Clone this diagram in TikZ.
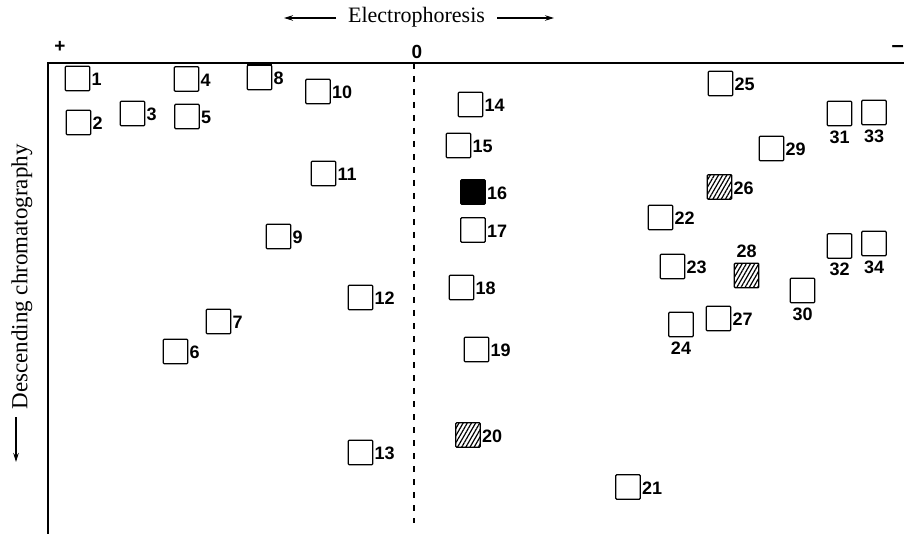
\documentclass[tikz,border=0pt]{standalone}
\usepackage{fontspec}
\setmainfont{Liberation Serif}
\setsansfont{Liberation Sans}
\usetikzlibrary{patterns.meta,arrows.meta}
\tikzset{
  spot/.style={draw, line width=1.1pt, minimum size=24.5pt, inner sep=0pt,
    rounded corners=1pt, label distance=2pt},
  hatchspot/.style={spot, line width=1.4pt,
    pattern={Lines[angle=60,distance=3.6pt,line width=1.2pt]}},
  solidspot/.style={spot, fill=black},
  lab/.style={font=\sffamily\bfseries\fontsize{18}{18}\selectfont, inner sep=1pt},
  axis/.style={line width=1.8pt},
  zeroline/.style={line width=1.3pt, dash pattern=on 6pt off 7pt},
  dirarrow/.style={line width=1.2pt, -{Stealth[length=9pt,width=5.5pt]}},
  title/.style={font=\fontsize{22}{22}\selectfont, inner sep=0pt},
  sign/.style={font=\sffamily\bfseries\fontsize{19}{19}\selectfont, inner sep=0pt},
}
\newcommand{\spotR}[5][spot]{\node[#1, label={[lab,yshift=-1pt]right:#5}] (s#2) at (#3,#4) {};}
\newcommand{\spotB}[5][spot]{\node[#1, label={[lab,yshift=-3pt]below:#5}] (s#2) at (#3,#4) {};}
\newcommand{\spotA}[5][spot]{\node[#1, label={[lab,yshift=4pt]above:#5}] (s#2) at (#3,#4) {};}
\begin{document}
\begin{tikzpicture}[x=1pt,y=-1pt]
\useasboundingbox (0,0) rectangle (904,534);
% axes
\coordinate (ax0) at (48,534);
\coordinate (ax1) at (48,63);
\coordinate (ax2) at (904,63);
\draw[axis] (ax0) -- (ax1) -- (ax2);
\coordinate (z0) at (414,63);
\coordinate (z1) at (414,523);
\draw[zeroline] (z0) -- (z1);
\node[sign] (plus) at (60,47) {+};
\node[sign] (zero) at (417,52) {0};
\node[sign, font=\sffamily\bfseries\fontsize{22}{22}\selectfont, anchor=east] (minus) at (904,49) {–};
% titles
\node[title] (ephor) at (416.5,17) {Electrophoresis};
\coordinate (la1) at (336,18);
\coordinate (la2) at (284,18);
\coordinate (ra1) at (497,18);
\coordinate (ra2) at (554,18);
\draw[dirarrow] (la1) -- (la2);
\draw[dirarrow] (ra1) -- (ra2);
\node[title, font=\fontsize{23}{23}\selectfont, rotate=90] (desc) at (22,277) {Descending chromatography};
\coordinate (da1) at (16,417);
\coordinate (da2) at (16,462);
\draw[dirarrow] (da1) -- (da2);
% spots
\spotR{1}{77.5}{78.5}{1}
\spotR{2}{78.5}{122.5}{2}
\spotR{3}{132.5}{113.5}{3}
\spotR{4}{186.5}{79}{4}
\spotR{5}{187}{116.5}{5}
\spotR{6}{175.5}{351.5}{6}
\spotR{7}{218.5}{321.5}{7}
\spotR{8}{259.5}{77.5}{8}
\draw[line width=2.6pt] (s8.north west) -- (s8.north east);
\spotR{9}{278.5}{236.5}{9}
\spotR{10}{318}{91.5}{10}
\spotR{11}{323.5}{173.5}{11}
\spotR{12}{360.5}{297.5}{12}
\spotR{13}{360.5}{452.5}{13}
\spotR{14}{470.5}{104.5}{14}
\spotR{15}{458.5}{145.5}{15}
\spotR[solidspot]{16}{473}{192}{16}
\spotR{17}{473}{230}{17}
\spotR{18}{461.5}{287.5}{18}
\spotR{19}{476.5}{349.5}{19}
\spotR[hatchspot]{20}{468}{435}{20}
\spotR{21}{628}{487}{21}
\spotR{22}{660.5}{217.5}{22}
\spotR{23}{672.5}{266.5}{23}
\spotB{24}{681}{324.5}{24}
\spotR{25}{720.5}{83.5}{25}
\spotR[hatchspot]{26}{719.5}{187}{26}
\spotR{27}{718.5}{318.5}{27}
\spotA[hatchspot]{28}{746.5}{275.5}{28}
\spotR{29}{771.5}{148.5}{29}
\spotB{30}{802.5}{290.5}{30}
\spotB{31}{839.5}{113.5}{31}
\spotB{32}{839.5}{246}{32}
\spotB{33}{874}{112.5}{33}
\spotB{34}{874}{243.5}{34}
\end{tikzpicture}
\end{document}
